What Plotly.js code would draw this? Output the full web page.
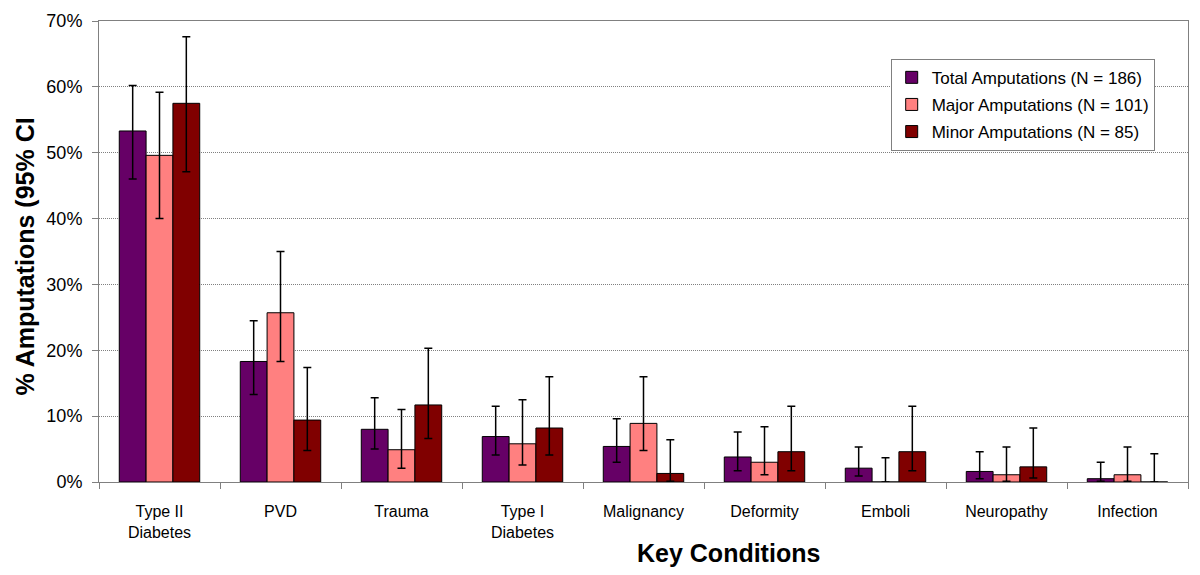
<!DOCTYPE html>
<html>
<head>
<meta charset="utf-8">
<script src="https://cdn.plot.ly/plotly-3.0.1.min.js"></script>
<style>html,body{margin:0;padding:0;background:#fff;}#chart{width:1200px;height:575px;}</style>
</head>
<body>
<div id="chart"></div>
<script>
var categories = ["Type II<br>Diabetes", "PVD", "Trauma", "Type I<br>Diabetes", "Malignancy", "Deformity", "Emboli", "Neuropathy", "Infection"];
var seriesNames = ["Total Amputations (N = 186)", "Major Amputations (N = 101)", "Minor Amputations (N = 85)"];

var totalPct = [53.3, 18.3, 8.0, 6.9, 5.4, 3.8, 2.1, 1.6, 0.5];
var totalLow = [46.0, 13.3, 5.0, 4.1, 3.0, 1.7, 0.9, 0.5, 0.1];
var totalHigh = [60.2, 24.5, 12.8, 11.5, 9.6, 7.6, 5.3, 4.6, 3.0];

var majorPct = [49.6, 25.7, 4.9, 5.8, 8.9, 3.0, 0.0, 1.1, 1.1];
var majorLow = [40.0, 18.3, 2.1, 2.6, 4.8, 1.1, 0.0, 0.1, 0.1];
var majorHigh = [59.2, 35.0, 11.0, 12.5, 16.0, 8.4, 3.7, 5.3, 5.3];

var minorPct = [57.5, 9.4, 11.7, 8.2, 1.3, 4.6, 4.6, 2.3, 0.0];
var minorLow = [47.1, 4.8, 6.6, 4.1, 0.1, 1.7, 1.7, 0.6, 0.0];
var minorHigh = [67.6, 17.4, 20.3, 16.0, 6.4, 11.5, 11.5, 8.2, 4.3];

var yTickVals = [0, 10, 20, 30, 40, 50, 60, 70];
var yTickText = ["0%", "10%", "20%", "30%", "40%", "50%", "60%", "70%"];

var colors = ["#660066", "#FF8080", "#800000"];

function mkTrace(name, vals, lo, hi, color, grp) {
  return {
    type: "bar",
    name: name,
    legendgroup: grp,
    x: categories,
    y: vals,
    marker: {color: color, line: {color: "#000000", width: 1}},
    error_y: {
      type: "data",
      symmetric: false,
      array: hi.map(function (h, i) { return h - vals[i]; }),
      arrayminus: lo.map(function (l, i) { return vals[i] - l; }),
      color: "#000000",
      thickness: 1.5,
      width: 4
    },
    hoverinfo: "x+y"
  };
}

var data = [
  mkTrace(seriesNames[0], totalPct, totalLow, totalHigh, colors[0], "g1"),
  mkTrace(seriesNames[1], majorPct, majorLow, majorHigh, colors[1], "g2"),
  mkTrace(seriesNames[2], minorPct, minorLow, minorHigh, colors[2], "g3")
];

var font = "Liberation Sans, Arial, sans-serif";

var layout = {
  width: 1200,
  height: 575,
  margin: {l: 98.5, r: 12, t: 21, b: 93, pad: 0},
  paper_bgcolor: "#ffffff",
  plot_bgcolor: "#ffffff",
  barmode: "group",
  bargap: 0.335,
  bargroupgap: 0,
  font: {family: font, color: "#000000"},
  showlegend: true,
  legend: {
    x: 0.727, y: 0.918, xanchor: "left", yanchor: "top",
    bgcolor: "#ffffff", bordercolor: "#808080", borderwidth: 1,
    font: {family: font, size: 17, color: "#000000"},
    itemwidth: 30,
    entrywidth: 262,
    entrywidthmode: "pixels",
    traceorder: "grouped",
    tracegroupgap: 2
  },
  xaxis: {
    type: "category",
    showline: true, linecolor: "#808080", linewidth: 1, mirror: true,
    ticks: "outside", tickson: "boundaries", ticklen: 6, tickcolor: "#808080",
    ticklabelstandoff: 15,
    tickfont: {family: font, size: 16, color: "#000000"},
    showgrid: false,
    fixedrange: true
  },
  yaxis: {
    range: [0, 70],
    tickvals: yTickVals,
    ticktext: yTickText,
    showline: true, linecolor: "#808080", linewidth: 1, mirror: true,
    ticks: "outside", ticklen: 6, tickcolor: "#808080",
    ticklabelstandoff: 6,
    tickfont: {family: font, size: 18, color: "#000000"},
    showgrid: true, gridcolor: "#808080", griddash: "1px,1px", gridwidth: 1,
    zeroline: false,
    fixedrange: true
  },
  annotations: [
    {
      text: "<b>Key Conditions</b>",
      xref: "paper", yref: "paper", x: 0.578, y: -0.154,
      xanchor: "center", yanchor: "middle", showarrow: false,
      font: {family: font, size: 25, color: "#000000"}
    },
    {
      text: "<b>% Amputations (95% CI</b>",
      xref: "paper", yref: "paper", x: -0.0675, y: 0.49,
      xanchor: "center", yanchor: "middle", showarrow: false, textangle: -90,
      font: {family: font, size: 25, color: "#000000"}
    }
  ]
};

Plotly.newPlot("chart", data, layout, {displayModeBar: false, staticPlot: true});
</script>
</body>
</html>
